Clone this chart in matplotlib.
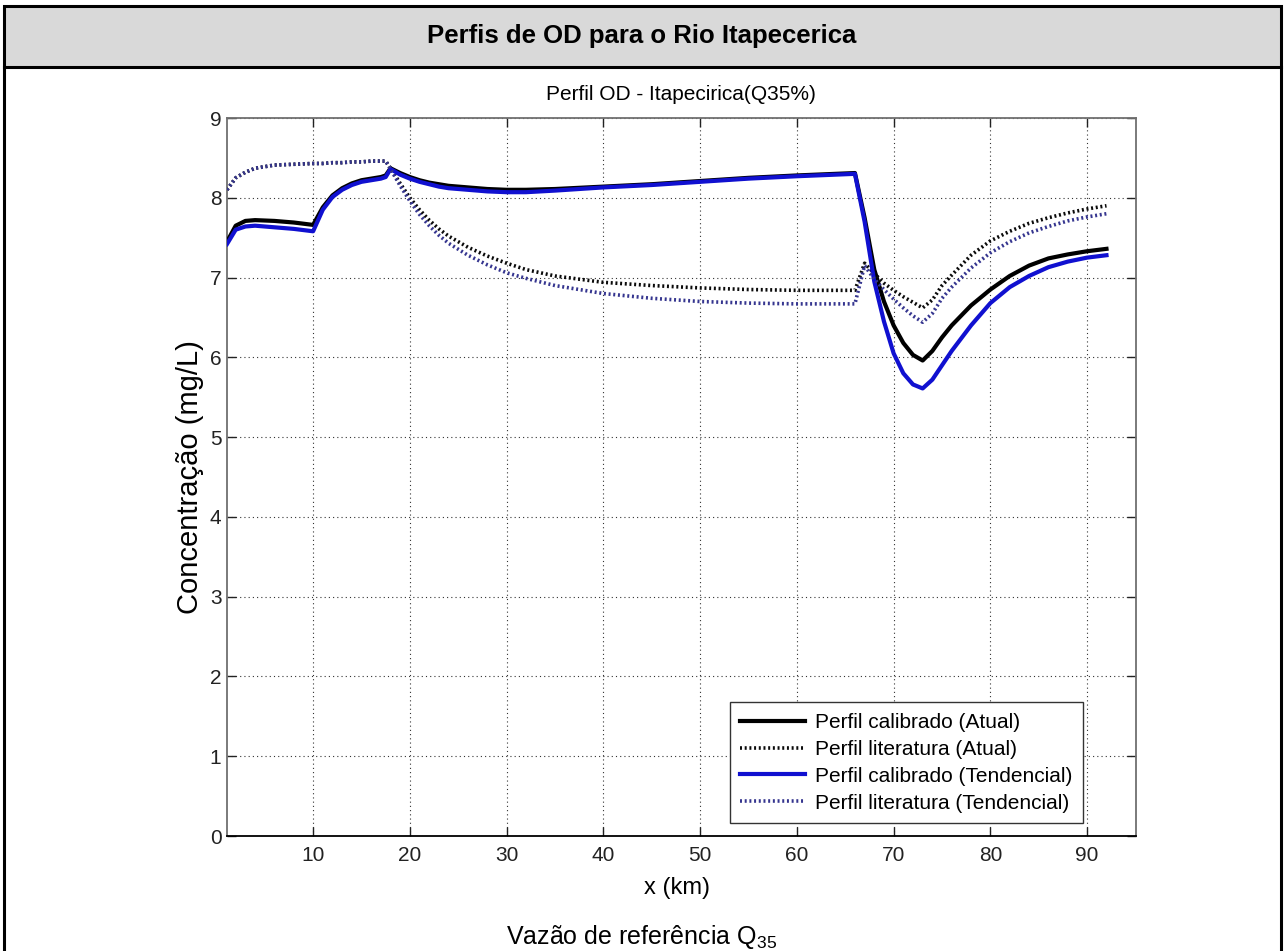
import matplotlib
matplotlib.use("Agg")
import matplotlib.pyplot as plt
from matplotlib.patches import Rectangle
from matplotlib.lines import Line2D

plt.rcParams['font.family'] = ['Liberation Sans', 'DejaVu Sans']
plt.rcParams['mathtext.fontset'] = 'custom'
plt.rcParams['mathtext.rm'] = 'Liberation Sans'

# Distance along the river (km)
km = [1.1, 2, 3, 4, 6, 8, 10, 11, 12, 13, 14, 15, 16, 17, 17.5, 18, 19, 20, 21,
      22, 23, 24, 26, 28, 30, 32, 35, 40, 45, 50, 55, 60, 66, 67, 68, 69, 70,
      71, 72, 73, 74, 75, 76, 78, 80, 82, 84, 86, 88, 90, 92]

# Dissolved oxygen (mg/L)
calib_atual = [7.45, 7.65, 7.71, 7.72, 7.71, 7.69, 7.66, 7.88, 8.03, 8.12, 8.18,
               8.22, 8.24, 8.26, 8.28, 8.37, 8.31, 8.26, 8.22, 8.19, 8.17, 8.15,
               8.13, 8.11, 8.10, 8.10, 8.11, 8.14, 8.17, 8.21, 8.25, 8.28, 8.31,
               7.75, 7.10, 6.70, 6.40, 6.18, 6.03, 5.96, 6.08, 6.25, 6.40, 6.65,
               6.85, 7.02, 7.15, 7.24, 7.29, 7.33, 7.36]
lit_atual = [8.10, 8.25, 8.32, 8.37, 8.41, 8.42, 8.43, 8.43, 8.44, 8.44, 8.45,
             8.45, 8.46, 8.46, 8.46, 8.37, 8.18, 8.00, 7.85, 7.72, 7.61, 7.52,
             7.38, 7.27, 7.18, 7.10, 7.02, 6.94, 6.90, 6.87, 6.85, 6.84, 6.84,
             7.18, 7.05, 6.93, 6.84, 6.76, 6.69, 6.62, 6.72, 6.90, 7.03, 7.28,
             7.46, 7.58, 7.68, 7.75, 7.81, 7.86, 7.90]
calib_tend = [7.42, 7.60, 7.64, 7.65, 7.63, 7.61, 7.58, 7.85, 8.01, 8.10, 8.16,
              8.20, 8.22, 8.24, 8.26, 8.36, 8.29, 8.24, 8.20, 8.17, 8.14, 8.12,
              8.10, 8.08, 8.07, 8.07, 8.09, 8.13, 8.16, 8.20, 8.24, 8.27, 8.30,
              7.70, 6.95, 6.45, 6.05, 5.80, 5.66, 5.61, 5.72, 5.90, 6.08, 6.40,
              6.68, 6.88, 7.02, 7.13, 7.20, 7.25, 7.28]
lit_tend = [8.10, 8.25, 8.32, 8.37, 8.41, 8.42, 8.43, 8.43, 8.44, 8.44, 8.45,
            8.45, 8.46, 8.46, 8.46, 8.36, 8.15, 7.96, 7.79, 7.65, 7.53, 7.43,
            7.28, 7.16, 7.06, 6.99, 6.90, 6.80, 6.74, 6.70, 6.68, 6.67, 6.67,
            7.15, 6.98, 6.85, 6.73, 6.62, 6.52, 6.44, 6.55, 6.74, 6.88, 7.12,
            7.31, 7.45, 7.56, 7.64, 7.71, 7.76, 7.80]

labels = ['Perfil calibrado (Atual)', 'Perfil literatura (Atual)',
          'Perfil calibrado (Tendencial)', 'Perfil literatura (Tendencial)']
x_ticks = [10, 20, 30, 40, 50, 60, 70, 80, 90]
y_ticks = [0, 1, 2, 3, 4, 5, 6, 7, 8, 9]

W, H = 1284, 951
fig = plt.figure(figsize=(W / 100, H / 100), dpi=100)


def fx(px):
    return px / W


def fy(py):
    return 1 - py / H


# Page frame and header band
fig.add_artist(Rectangle((fx(4), fy(67)), fx(1281) - fx(4), fy(6) - fy(67),
                         transform=fig.transFigure, facecolor='#d9d9d9',
                         edgecolor='black', lw=2.2, zorder=0))
for xp in (4, 1281):
    fig.add_artist(Line2D([fx(xp), fx(xp)], [0, fy(67)], transform=fig.transFigure,
                          color='black', lw=2.2))
fig.text(0.5, fy(36), 'Perfis de OD para o Rio Itapecerica', ha='center', va='center',
         fontsize=18.5, fontweight='bold')

ax = fig.add_axes([fx(227), fy(836), fx(1136) - fx(227), fy(118) - fy(836)])

dot = (0, (0.55, 0.75))
ax.plot(km, calib_atual, color='black', lw=3, label=labels[0], zorder=3)
ax.plot(km, lit_atual, color='#0a0a0a', lw=2.6, ls=dot, label=labels[1], zorder=3)
ax.plot(km, calib_tend, color='#1010d0', lw=3, label=labels[2], zorder=4)
ax.plot(km, lit_tend, color='#35358f', lw=2.6, ls=dot, label=labels[3], zorder=4)

ax.set_xlim(1.1, 95.05)
ax.set_ylim(0, 9)
ax.set_xticks(x_ticks)
ax.set_yticks(y_ticks)
ax.grid(True, color='#333333', lw=0.8, ls=(0, (1, 2.8)))
ax.set_axisbelow(True)
ax.tick_params(direction='in', length=6.5, width=1, top=True, right=True,
               labelsize=15, colors='#222222')
ax.tick_params(axis='x', pad=7)
ax.tick_params(axis='y', pad=4)
for side in ('left', 'right', 'top'):
    ax.spines[side].set_color('#707070')
    ax.spines[side].set_linewidth(1.3)
ax.spines['bottom'].set_color('black')
ax.spines['bottom'].set_linewidth(1.3)

leg = ax.legend(loc='lower right', bbox_to_anchor=(0.9417, 0.018), borderaxespad=0,
                fontsize=15, handlelength=3.1, labelspacing=0.38, handletextpad=0.5,
                borderpad=0.5, fancybox=False, framealpha=1, edgecolor='#333333')
leg.get_frame().set_linewidth(1.0)

fig.text(fx(681), fy(95), 'Perfil OD - Itapecirica(Q35%)', ha='center', va='center',
         fontsize=15)
fig.text(fx(677), fy(888), 'x (km)', ha='center', va='center', fontsize=17)
fig.text(fx(190), fy(477), 'Concentração (mg/L)', ha='center', va='center',
         rotation=90, fontsize=21)
fig.text(0.5, fy(937), r'Vazão de referência Q$_\mathregular{35}$', ha='center',
         va='center', fontsize=18)

fig.savefig('out.png', dpi=100)
